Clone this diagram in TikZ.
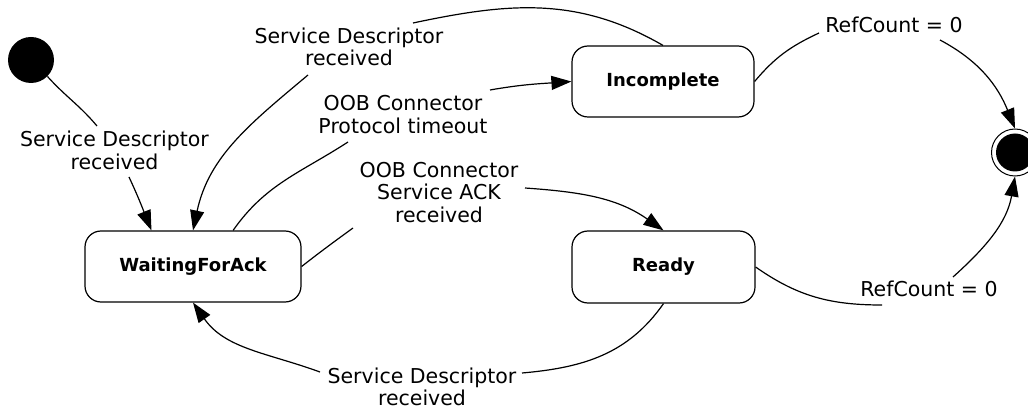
\documentclass[tikz,border=0pt]{standalone}
\usepackage{fontspec}
\setmainfont{DejaVu Sans}
\usetikzlibrary{arrows.meta,calc}
\begin{document}
\begin{tikzpicture}[x=1pt,y=1pt,
  state/.style={draw, line width=1.2pt, rounded corners=16pt, inner sep=0pt,
    font=\fontsize{18}{20}\selectfont\bfseries},
  lbl/.style={align=center, inner sep=0pt, font=\fontsize{20.5}{22.5}\selectfont},
  conn/.style={line width=1.2pt},
  arr/.style={line width=1.2pt, -{Triangle[length=20pt,width=14pt]}}]
\useasboundingbox (0,0) rectangle (1028,410);
% states
\node[state, minimum width=216pt, minimum height=71pt] (wfa) at (193,143.5) {WaitingForAck};
\node[state, minimum width=182pt, minimum height=71pt] (inc) at (663,328.5) {Incomplete};
\node[state, minimum width=183pt, minimum height=72pt] (rdy) at (663.5,143) {Ready};
\node[circle, fill, inner sep=0pt, minimum size=46pt] (init) at (31,350) {};
\node[circle, draw, line width=1pt, inner sep=0pt, minimum size=47pt] (fin) at (1015,257.5) {};
\fill (fin.center) circle (19pt);
% labels
\node[lbl] (l1) at (114.5,259.5) {Service Descriptor\\received};
\node[lbl] (l2) at (349,363) {Service Descriptor\\received};
\node[lbl] (l3) at (403,295.5) {OOB Connector\\Protocol timeout};
\node[lbl] (l4) at (439,217.5) {OOB Connector\\Service ACK\\received};
\node[lbl] (l5) at (422,23) {Service Descriptor\\received};
\node[lbl] (l6) at (894,385) {RefCount = 0};
\node[lbl] (l7) at (929,121) {RefCount = 0};
% 1: initial -> WaitingForAck
\draw[conn] (init.-45) to[out=-48,in=130] ($(l1)+(-17.5,24.5)$);
\draw[arr] ($(l1)+(14.5,-26.5)$) to[out=-65,in=112] (wfa.139);
% 2: Incomplete -> WaitingForAck
\draw[conn] (inc.north) to[out=150,in=12] ($(l2)+(64,24)$);
\draw[arr] ($(l2)+(-41,-28)$) to[out=-140,in=78] (wfa.north);
% 3: WaitingForAck -> Incomplete
\draw[conn] (wfa.42) to[out=55,in=213] ($(l3)+(-55,-27.5)$);
\draw[arr] ($(l3)+(87,24.5)$) to[out=10,in=184] (inc.west);
% 4: WaitingForAck -> Ready
\draw[conn] (wfa.east) to[out=38,in=216] ($(l4)+(-86,-35.5)$);
\draw[arr] ($(l4)+(86,4.5)$) to[out=-4,in=145] (rdy.north);
% 5: Ready -> WaitingForAck
\draw[conn] (rdy.south) to[out=-125,in=5] ($(l5)+(100,14)$);
\draw[arr] ($(l5)+(-102,15)$) to[out=160,in=-55] (wfa.south);
% 6: Incomplete -> final
\draw[conn] (inc.east) to[out=50,in=205] ($(l6)+(-75,-8)$);
\draw[arr] ($(l6)+(46,-15)$) to[out=-28,in=112] (fin.north);
% 7: Ready -> final
\draw[conn] (rdy.east) to[out=-35,in=180] ($(l7)+(-47,-16)$);
\draw[arr] ($(l7)+(24,12)$) to[out=42,in=-100] (fin.south);
\end{tikzpicture}
\end{document}
